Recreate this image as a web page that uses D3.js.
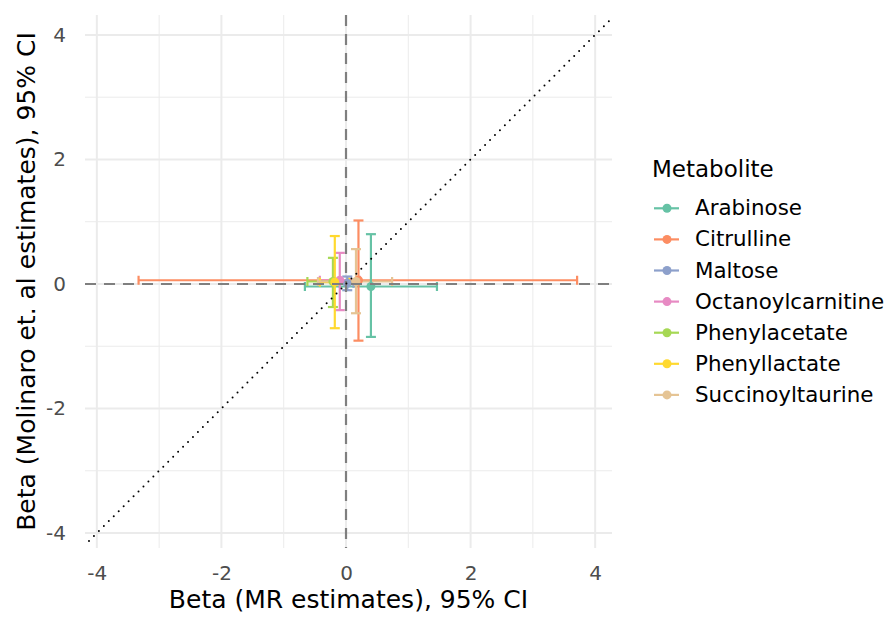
<!DOCTYPE html>
<html>
<head>
<meta charset="utf-8">
<script src="https://cdn.jsdelivr.net/npm/d3@7"></script>
<style>
  body { margin: 0; background: #fff; }
  svg text { font-family: "DejaVu Sans", sans-serif; }
</style>
</head>
<body>
<svg id="chart" width="889" height="617"></svg>
<script>
// data
var metabolites = ["Arabinose", "Citrulline", "Maltose", "Octanoylcarnitine", "Phenylacetate", "Phenyllactate", "Succinoyltaurine"];
var mrBeta   = [0.40, 0.20, 0.02, -0.10, -0.21, -0.18, 0.16];
var mrLow    = [-0.66, -3.33, -0.10, -0.42, -0.62, -0.42, -0.45];
var mrHigh   = [1.46, 3.71, 0.12, 0.22, 0.20, 0.05, 0.74];
var molBeta  = [-0.04, 0.06, 0.01, 0.06, 0.04, 0.03, 0.04];
var molLow   = [-0.85, -0.91, -0.10, -0.42, -0.37, -0.71, -0.47];
var molHigh  = [0.80, 1.02, 0.12, 0.50, 0.42, 0.77, 0.56];
var colours  = ["#66C2A5", "#FC8D62", "#8DA0CB", "#E78AC3", "#A6D854", "#FFD92F", "#E5C494"];
var ticks    = [-4, -2, 0, 2, 4];
var minorTicks = [-3, -1, 1, 3];

var rows = metabolites.map(function (m, i) {
    return { name: m, x: mrBeta[i], xl: mrLow[i], xh: mrHigh[i],
             y: molBeta[i], yl: molLow[i], yh: molHigh[i], col: colours[i] };
});

var svg = d3.select("#chart");
var panel = { left: 85, right: 612, top: 15, bottom: 548 };
var FONT = "DejaVu Sans, sans-serif";

var x = d3.scaleLinear().domain([-4.19, 4.27]).range([panel.left, panel.right]);
var y = d3.scaleLinear().domain([-4.24, 4.32]).range([panel.bottom, panel.top]);

svg.append("defs").append("clipPath").attr("id", "clip")
    .append("rect")
    .attr("x", panel.left).attr("y", panel.top)
    .attr("width", panel.right - panel.left).attr("height", panel.bottom - panel.top);

// grid
var grid = svg.append("g");
grid.selectAll(".gminx").data(minorTicks).enter().append("line")
    .attr("x1", d => x(d)).attr("x2", d => x(d))
    .attr("y1", panel.top).attr("y2", panel.bottom)
    .attr("stroke", "#ebebeb").attr("stroke-width", 1);
grid.selectAll(".gminy").data(minorTicks).enter().append("line")
    .attr("y1", d => y(d)).attr("y2", d => y(d))
    .attr("x1", panel.left).attr("x2", panel.right)
    .attr("stroke", "#ebebeb").attr("stroke-width", 1);
grid.selectAll(".gx").data(ticks).enter().append("line")
    .attr("x1", d => x(d)).attr("x2", d => x(d))
    .attr("y1", panel.top).attr("y2", panel.bottom)
    .attr("stroke", "#ebebeb").attr("stroke-width", 2);
grid.selectAll(".gy").data(ticks).enter().append("line")
    .attr("y1", d => y(d)).attr("y2", d => y(d))
    .attr("x1", panel.left).attr("x2", panel.right)
    .attr("stroke", "#ebebeb").attr("stroke-width", 2);

// axes (labels only, ggplot minimal style); plain hyphen for negatives
var fmt = d => String(d);
var xAxis = svg.append("g")
    .attr("transform", "translate(0," + panel.bottom + ")")
    .call(d3.axisBottom(x).tickValues(ticks).tickFormat(fmt).tickSize(0).tickPadding(18));
var yAxis = svg.append("g")
    .attr("transform", "translate(" + panel.left + ",0)")
    .call(d3.axisLeft(y).tickValues(ticks).tickFormat(fmt).tickSize(0).tickPadding(19));
[xAxis, yAxis].forEach(function (a) {
    a.attr("font-size", null).attr("font-family", null);
    a.select(".domain").remove();
    a.selectAll("text")
        .attr("fill", "#4d4d4d")
        .style("font-size", "20px")
        .style("font-family", FONT);
});

var plot = svg.append("g").attr("clip-path", "url(#clip)");

// horizontal error bars
var capH = 4.5, capW = 5;
rows.forEach(function (d) {
    var g = plot.append("g").attr("stroke", d.col).attr("stroke-width", 2.2).attr("fill", "none");
    g.append("line").attr("x1", x(d.xl)).attr("x2", x(d.xh)).attr("y1", y(d.y)).attr("y2", y(d.y));
    g.append("line").attr("x1", x(d.xl)).attr("x2", x(d.xl)).attr("y1", y(d.y) - capH).attr("y2", y(d.y) + capH);
    g.append("line").attr("x1", x(d.xh)).attr("x2", x(d.xh)).attr("y1", y(d.y) - capH).attr("y2", y(d.y) + capH);
});
// vertical error bars
rows.forEach(function (d) {
    var g = plot.append("g").attr("stroke", d.col).attr("stroke-width", 2.2).attr("fill", "none");
    g.append("line").attr("x1", x(d.x)).attr("x2", x(d.x)).attr("y1", y(d.yl)).attr("y2", y(d.yh));
    g.append("line").attr("x1", x(d.x) - capW).attr("x2", x(d.x) + capW).attr("y1", y(d.yl)).attr("y2", y(d.yl));
    g.append("line").attr("x1", x(d.x) - capW).attr("x2", x(d.x) + capW).attr("y1", y(d.yh)).attr("y2", y(d.yh));
});
plot.selectAll(".pt").data(rows).enter().append("circle")
    .attr("cx", d => x(d.x)).attr("cy", d => y(d.y)).attr("r", 4.5)
    .attr("fill", d => d.col);

// reference lines
plot.append("line")
    .attr("x1", panel.left).attr("x2", panel.right).attr("y1", y(0)).attr("y2", y(0))
    .attr("stroke", "#7f7f7f").attr("stroke-width", 2.2).attr("stroke-dasharray", "11,8");
plot.append("line")
    .attr("x1", x(0)).attr("x2", x(0)).attr("y1", panel.top).attr("y2", panel.bottom)
    .attr("stroke", "#7f7f7f").attr("stroke-width", 2.2).attr("stroke-dasharray", "11,8");
plot.append("line")
    .attr("x1", x(-5)).attr("y1", y(-5)).attr("x2", x(5)).attr("y2", y(5))
    .attr("stroke", "#000").attr("stroke-width", 2)
    .attr("stroke-linecap", "round").attr("stroke-dasharray", "0,7");

// axis titles
svg.append("text")
    .attr("x", (panel.left + panel.right) / 2).attr("y", 608)
    .attr("text-anchor", "middle").style("font-size", "25px").style("font-family", FONT).attr("fill", "#000")
    .text("Beta (MR estimates), 95% CI");
svg.append("text")
    .attr("transform", "translate(35," + (panel.top + panel.bottom) / 2 + ") rotate(-90)")
    .attr("text-anchor", "middle").style("font-size", "25px").style("font-family", FONT).attr("fill", "#000")
    .text("Beta (Molinaro et. al estimates), 95% CI");

// legend
var legend = svg.append("g").attr("transform", "translate(652,0)");
legend.append("text").attr("x", 0).attr("y", 177)
    .style("font-size", "23px").style("font-family", FONT).attr("fill", "#000").text("Metabolite");
var item = legend.selectAll(".item").data(rows).enter().append("g")
    .attr("transform", (d, i) => "translate(0," + (208.3 + i * 31.1) + ")");
item.append("line").attr("x1", 2).attr("x2", 27).attr("y1", 0).attr("y2", 0)
    .attr("stroke", d => d.col).attr("stroke-width", 2.2);
item.append("circle").attr("cx", 15).attr("cy", 0).attr("r", 4.5).attr("fill", d => d.col);
item.append("text").attr("x", 43).attr("y", 7)
    .style("font-size", "21.4px").style("font-family", FONT).attr("fill", "#000").text(d => d.name);
</script>
</body>
</html>
